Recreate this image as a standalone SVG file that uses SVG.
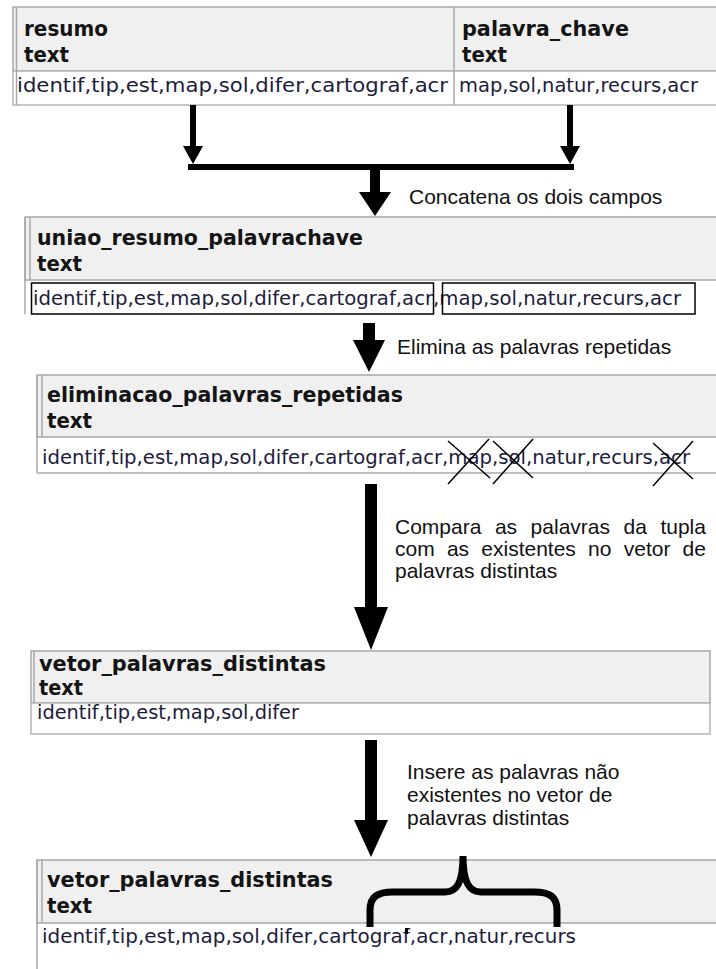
<svg xmlns="http://www.w3.org/2000/svg" width="716" height="969" viewBox="0 0 716 969">
<style>
.hdr{fill:#f0f0f0;stroke:#a8a8a8;stroke-width:1.5}
.row{fill:#fff;stroke:#b4b4b4;stroke-width:1.5}
.ln{stroke:#a8a8a8;stroke-width:1.5;fill:none}
.h{font-family:"DejaVu Sans",Verdana,sans-serif;font-weight:bold;font-size:21px;fill:#141414}
.d{font-family:"DejaVu Sans",Verdana,sans-serif;font-size:19px;fill:#1c1c3c}
.lbl{font-family:"Liberation Sans",Arial,sans-serif;font-size:21px;fill:#111}
.box{fill:none;stroke:#000;stroke-width:1.5}
.x{stroke:#000;stroke-width:1.5}
</style>
<rect width="716" height="969" fill="#fff"/>

<g id="tabela_resumo_palavra_chave">
  <rect class="hdr" x="13" y="7" width="710" height="64"/>
  <rect class="row" x="13" y="71" width="710" height="34"/>
  <line class="ln" x1="16.5" y1="7" x2="16.5" y2="105"/>
  <line class="ln" x1="454" y1="7" x2="454" y2="105"/>
  <text class="h" x="24" y="36" textLength="84" lengthAdjust="spacingAndGlyphs">resumo</text>
  <text class="h" x="24" y="62" textLength="45" lengthAdjust="spacingAndGlyphs">text</text>
  <text class="h" x="462" y="36" textLength="167" lengthAdjust="spacingAndGlyphs">palavra_chave</text>
  <text class="h" x="462" y="62" textLength="45" lengthAdjust="spacingAndGlyphs">text</text>
  <text class="d" x="17" y="92" textLength="431" lengthAdjust="spacingAndGlyphs">identif,tip,est,map,sol,difer,cartograf,acr</text>
  <text class="d" x="459" y="92" textLength="239" lengthAdjust="spacingAndGlyphs">map,sol,natur,recurs,acr</text>
</g>

<g id="uniao_resumo_palavrachave">
  <rect class="hdr" x="25" y="217" width="700" height="63"/>
  <line class="ln" x1="25" y1="217" x2="25" y2="314"/>
  <line class="ln" x1="30" y1="217" x2="30" y2="280"/>
  <text class="h" x="37" y="245" textLength="326" lengthAdjust="spacingAndGlyphs">uniao_resumo_palavrachave</text>
  <text class="h" x="37" y="271" textLength="45" lengthAdjust="spacingAndGlyphs">text</text>
  <text class="d" x="33" y="305" textLength="648" lengthAdjust="spacingAndGlyphs">identif,tip,est,map,sol,difer,cartograf,acr,map,sol,natur,recurs,acr</text>
  <rect class="box" x="31.5" y="283" width="402" height="31"/>
  <rect class="box" x="442.5" y="283" width="252.5" height="31"/>
</g>

<g id="eliminacao_palavras_repetidas">
  <rect class="hdr" x="37" y="375" width="690" height="62"/>
  <line class="ln" x1="37" y1="375" x2="37" y2="473"/>
  <line class="ln" x1="42" y1="375" x2="42" y2="437"/>
  <line class="ln" x1="37" y1="473" x2="716" y2="473"/>
  <text class="h" x="47" y="402" textLength="356" lengthAdjust="spacingAndGlyphs">eliminacao_palavras_repetidas</text>
  <text class="h" x="47" y="428" textLength="45" lengthAdjust="spacingAndGlyphs">text</text>
  <text class="d" x="42" y="464" textLength="648" lengthAdjust="spacingAndGlyphs">identif,tip,est,map,sol,difer,cartograf,acr,map,sol,natur,recurs,acr</text>
</g>

<g id="marcas_eliminadas">
  <line class="x" x1="448" y1="441" x2="490" y2="478"/>
  <line class="x" x1="489" y1="439" x2="448" y2="484"/>
  <line class="x" x1="493" y1="441" x2="533" y2="478"/>
  <line class="x" x1="533" y1="439" x2="493" y2="484"/>
  <line class="x" x1="653" y1="443" x2="693" y2="479"/>
  <line class="x" x1="693" y1="441" x2="653" y2="486"/>
</g>

<g id="vetor_palavras_distintas_1">
  <rect class="hdr" x="31" y="651" width="679" height="52"/>
  <rect class="row" x="31" y="703" width="679" height="31"/>
  <line class="ln" x1="34" y1="651" x2="34" y2="703"/>
  <text class="h" x="39" y="671" textLength="287" lengthAdjust="spacingAndGlyphs">vetor_palavras_distintas</text>
  <text class="h" x="39" y="695" textLength="44" lengthAdjust="spacingAndGlyphs">text</text>
  <text class="d" x="37" y="719" textLength="262" lengthAdjust="spacingAndGlyphs">identif,tip,est,map,sol,difer</text>
</g>

<g id="vetor_palavras_distintas_2">
  <rect class="hdr" x="37" y="860" width="690" height="63"/>
  <line class="ln" x1="37" y1="860" x2="37" y2="969"/>
  <line class="ln" x1="42" y1="860" x2="42" y2="923"/>
  <text class="h" x="47" y="887" textLength="286" lengthAdjust="spacingAndGlyphs">vetor_palavras_distintas</text>
  <text class="h" x="47" y="913" textLength="45" lengthAdjust="spacingAndGlyphs">text</text>
  <text class="d" x="42" y="943" textLength="534" lengthAdjust="spacingAndGlyphs">identif,tip,est,map,sol,difer,cartograf,acr,natur,recurs</text>
  <rect x="405" y="928" width="3" height="6" fill="#000"/>
  <path d="M370 927 L370 910 C370 897 377 892 393 892 L445 892 C457 892 463 882 463 856 C463 882 469 892 481 892 L534 892 C550 892 557 897 557 910 L557 927" fill="none" stroke="#000" stroke-width="7"/>
</g>

<g id="conectores" fill="#000">
  <path d="M190 105 H196 V146 H203 L193 164 L183 146 H190 Z"/>
  <path d="M567 105 H573 V146 H580 L570 164 L560 146 H567 Z"/>
  <rect x="188" y="164" width="386" height="6"/>
  <path d="M370 170 H380 V192 H391 L375 216 L359 192 H370 Z"/>
  <path d="M363 323 H375 V340 H385 L369 372 L353 340 H363 Z"/>
  <path d="M365 484 H377 V607 H388 L371 650 L354 607 H365 Z"/>
  <path d="M365 740 H377 V820 H388 L371 857 L354 820 H365 Z"/>
</g>

<g id="rotulos">
  <text class="lbl" x="409" y="204">Concatena os dois campos</text>
  <text class="lbl" x="397" y="354">Elimina as palavras repetidas</text>
  <text class="lbl" x="395" y="534" word-spacing="7.7">Compara as palavras da tupla</text>
  <text class="lbl" x="395" y="556" word-spacing="6.4">com as existentes no vetor de</text>
  <text class="lbl" x="395" y="578">palavras distintas</text>
  <text class="lbl" x="407" y="779">Insere as palavras não</text>
  <text class="lbl" x="407" y="802">existentes no vetor de</text>
  <text class="lbl" x="407" y="825">palavras distintas</text>
</g>
</svg>
